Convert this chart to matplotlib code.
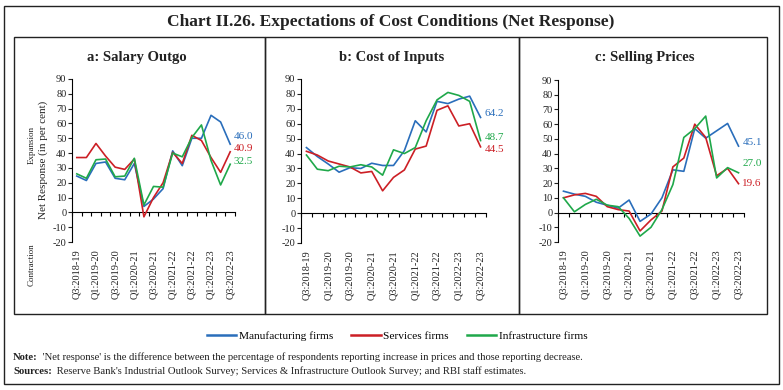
import numpy as np
import matplotlib
matplotlib.use("Agg")
from matplotlib import pyplot as plt
from matplotlib.patches import Rectangle
from matplotlib.lines import Line2D

plt.rcParams['font.family'] = ['Liberation Serif', 'DejaVu Serif']
plt.rcParams['axes.unicode_minus'] = False

# Quarters Q3:2018-19 ... Q3:2022-23
quarters = ["Q3:2018-19", "Q4:2018-19",
            "Q1:2019-20", "Q2:2019-20", "Q3:2019-20", "Q4:2019-20",
            "Q1:2020-21", "Q2:2020-21", "Q3:2020-21", "Q4:2020-21",
            "Q1:2021-22", "Q2:2021-22", "Q3:2021-22", "Q4:2021-22",
            "Q1:2022-23", "Q2:2022-23", "Q3:2022-23"]

# a: Salary Outgo
salary_mfg = [24.5, 21.5, 33, 34, 23, 22, 33, 4, 9, 16, 41.5, 31.5, 50, 50, 65.5, 61, 46.0]
salary_srv = [37, 37, 46.5, 38, 30.5, 29, 36, -3, 10, 20, 40.5, 33, 52, 48.5, 37, 27, 40.9]
salary_inf = [26, 23, 35.5, 36, 24, 24.5, 36.5, 5, 17.5, 17, 40, 37.5, 50.5, 59, 35, 18.5, 32.5]

# b: Cost of Inputs
inputs_mfg = [44, 38, 33, 27.5, 30.5, 30, 33.5, 32, 32, 42, 62, 54.5, 75, 73.5, 76.5, 78.5, 64.2]
inputs_srv = [41.5, 39, 35, 33, 31, 27, 28, 15, 24, 29, 43, 45, 69, 72, 58.5, 60, 44.5]
inputs_inf = [39, 29.5, 28.5, 31.5, 31, 32.5, 31, 25.5, 42.5, 40, 44, 62, 76, 81, 79, 75, 48.7]

# c: Selling Prices
prices_mfg = [14.5, 12.5, 11, 7, 5, 3, 8.5, -6, -1, 10, 29, 28, 57, 50.5, 55.5, 60.5, 45.1]
prices_srv = [10, 12, 13, 11, 4, 2, 1, -12.5, -5, 1, 31, 37, 60, 51, 25, 30, 19.6]
prices_inf = [10, 0.5, 5.5, 9, 5, 4, -4, -16, -10, 2, 19, 51, 57, 65.5, 23.5, 30.5, 27.0]

titles = ["a: Salary Outgo", "b: Cost of Inputs", "c: Selling Prices"]
series_names = ["Manufacturing firms", "Services firms", "Infrastructure firms"]
colors = ["#2a6ebb", "#cc1f25", "#1fa84a"]

panels = [
    (salary_mfg, salary_srv, salary_inf),
    (inputs_mfg, inputs_srv, inputs_inf),
    (prices_mfg, prices_srv, prices_inf),
]
# y offsets for end labels so they don't overlap
label_y = [(51, 43, 34.5), (67, 43, 51), (47.5, 20, 33.5)]

W, H = 783, 390
fig = plt.figure(figsize=(W / 100, H / 100), dpi=100)


def px(x0, y0, x1, y1):
    return [x0 / W, 1 - y1 / H, (x1 - x0) / W, (y1 - y0) / H]


# frames
fig.add_artist(Rectangle((4 / W, 1 - 384 / H), 775 / W, 378 / H, transform=fig.transFigure,
                         fill=False, lw=1.0, ec="#222222"))
for x0, x1 in [(14, 265), (265, 519), (519, 767)]:
    fig.add_artist(Rectangle((x0 / W, 1 - 314 / H), (x1 - x0) / W, (314 - 37) / H,
                             transform=fig.transFigure, fill=False, lw=1.0, ec="#222222"))

fig.text(391 / W, 1 - 22 / H, "Chart II.26. Expectations of Cost Conditions (Net Response)",
         ha="center", va="center", fontsize=12.5, fontweight="bold", color="#222222")

axes_px = [(72, 79, 235, 242), (301, 79, 486, 243), (558, 80, 744, 242)]
title_x = [137, 392, 645]

x = np.arange(len(quarters))
for k, (ax_box, data) in enumerate(zip(axes_px, panels)):
    ax = fig.add_axes(px(*ax_box))
    for vals, c in zip(data, colors):
        ax.plot(x, vals, color=c, lw=1.2)
    for vals, c, ly in zip(data, colors, label_y[k]):
        ax.text(x[-1] + 0.35, ly, f"{vals[-1]:.1f}", color=c, fontsize=8, va="center", ha="left")
    ax.set_xlim(-0.5, 16.5)
    ax.set_ylim(-20, 90)
    ax.set_yticks(range(-20, 91, 10))
    ax.tick_params(axis="y", labelsize=7.5, length=3, width=0.8, pad=1, colors="#222222")
    ax.set_xticks(x[::2])
    ax.set_xticklabels(quarters[::2], rotation=90, fontsize=7.5, color="#222222")
    ax.tick_params(axis="x", length=0, pad=5)
    for s in ["top", "right", "bottom"]:
        ax.spines[s].set_visible(False)
    ax.spines["left"].set_linewidth(0.8)
    # zero line with the category ticks
    sec = ax.secondary_xaxis(20 / 110)
    sec.set_xticks(np.arange(-0.5, 16.6, 1))
    sec.tick_params(length=3, width=0.8, labelbottom=False)
    sec.spines["bottom"].set_linewidth(0.8)
    fig.text(title_x[k] / W, 1 - 57 / H, titles[k], ha="center", va="center",
             fontsize=10.5, fontweight="bold", color="#222222")

fig.text(43 / W, 1 - 160 / H, "Net Response (in per cent)", rotation=90, ha="center", va="center",
         fontsize=8, color="#222222")
fig.text(32 / W, 1 - 145 / H, "Expansion", rotation=90, ha="center", va="center",
         fontsize=6.5, color="#222222")
fig.text(32 / W, 1 - 265 / H, "Contraction", rotation=90, ha="center", va="center",
         fontsize=6.5, color="#222222")

handles = [Line2D([0], [0], color=c, lw=1.8) for c in colors]
fig.legend(handles, series_names, loc="center", bbox_to_anchor=(397 / W, 1 - 336 / H),
           ncol=3, frameon=False, fontsize=8.2, handlelength=2.6, handletextpad=0.2,
           columnspacing=1.6)

# footnotes: bold lead-in followed by regular text
renderer = fig.canvas.get_renderer()
notes = [("Note:", " 'Net response' is the difference between the percentage of respondents "
          "reporting increase in prices and those reporting decrease.", 357),
         ("Sources:", " Reserve Bank's Industrial Outlook Survey; Services & "
          "Infrastructure Outlook Survey; and RBI staff estimates.", 371)]
for head, body, yy in notes:
    t = fig.text(13 / W, 1 - yy / H, head, ha="left", va="center", fontsize=7.7,
                 fontweight="bold", color="#222222")
    bb = t.get_window_extent(renderer)
    fig.text(bb.x1 / W + 2 / W, 1 - yy / H, body, ha="left", va="center", fontsize=7.7,
             color="#222222")

fig.savefig("out.png", dpi=100)
